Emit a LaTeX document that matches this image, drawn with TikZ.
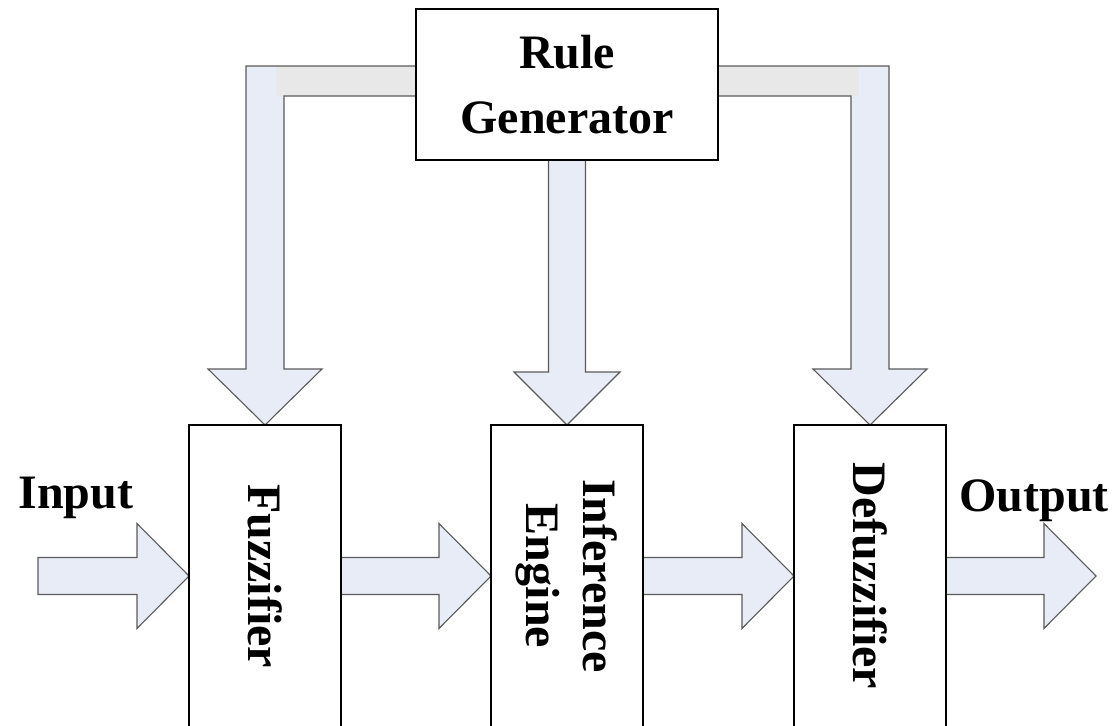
\documentclass[tikz,border=0pt]{standalone}
\usepackage{fontspec}
\setmainfont{Liberation Serif}
\usetikzlibrary{calc,backgrounds}
\definecolor{arrowfill}{HTML}{E8ECF6}
\definecolor{barfill}{HTML}{E8E8E8}
\definecolor{arrowline}{HTML}{5A5A5A}

\begin{document}
\begin{tikzpicture}[x=1pt,y=-1pt,
  box/.style={draw=black, line width=1.6pt, fill=white, inner sep=0pt, outer sep=0pt},
  bigtext/.style={font=\fontsize{48}{57}\selectfont\bfseries},
  vtext/.style={bigtext, rotate=-90, align=center},
  blockline/.style={draw=arrowline, line width=1.1pt, fill=arrowfill, line join=miter},
  % horizontal block arrow between two points
  harrow/.style={to path={
    ($(\tikztostart)+(0,-18.5)$) -- ($(\tikztotarget)+(-52,-18.5)$)
    -- ($(\tikztotarget)+(-52,-52.5)$) -- (\tikztotarget)
    -- ($(\tikztotarget)+(-52,52.5)$) -- ($(\tikztotarget)+(-52,18.5)$)
    -- ($(\tikztostart)+(0,18.5)$) -- cycle}},
  % vertical block arrow pointing down
  varrow/.style={to path={
    ($(\tikztostart)+(-18.5,0)$) -- ($(\tikztotarget)+(-18.5,-53)$)
    -- ($(\tikztotarget)+(-53,-53)$) -- (\tikztotarget)
    -- ($(\tikztotarget)+(53,-53)$) -- ($(\tikztotarget)+(18.5,-53)$)
    -- ($(\tikztostart)+(18.5,0)$) -- cycle}},
]
\useasboundingbox (0,0) rectangle (1118,725);
\clip (0,0) rectangle (1118,725);

% blocks
\node[box, minimum width=302, minimum height=151, bigtext, align=center,
      font=\fontsize{48}{65}\selectfont\bfseries] (rulegen) at (567,84.5) {Rule\\Generator};
\node[box, minimum width=152, minimum height=302,
      label={[vtext]center:Fuzzifier}] (fuzz) at (265,576) {};
\node[box, minimum width=152, minimum height=302,
      label={[vtext]center:Inference\\Engine}] (infer) at (567,576) {};
\node[box, minimum width=152, minimum height=302,
      label={[vtext]center:Defuzzifier}] (defuzz) at (870,576) {};

\node[bigtext, anchor=base] (inlabel) at (76,508) {Input};
\node[bigtext, anchor=base] (outlabel) at (1034,511) {Output};

\coordinate (in) at (38,576);
\coordinate (out) at (1096,576);
\coordinate (lc0) at (fuzz.north |- rulegen.west);
\coordinate (rc0) at (defuzz.north |- rulegen.east);
\coordinate (lc) at ($(lc0)+(0,-3.5)$);
\coordinate (rc) at ($(rc0)+(0,-3.5)$);

% elbow arrows from the rule generator
\def\leftelbow{($(lc)+(-19,-15)$) -- ($(fuzz.north)+(-19,-56)$)
  -- ($(fuzz.north)+(-57,-56)$) -- (fuzz.north)
  -- ($(fuzz.north)+(57,-56)$) -- ($(fuzz.north)+(19,-56)$)
  -- ($(lc)+(19,15)$) -- ($(rulegen.west)+(0,11.5)$)
  -- ($(rulegen.west)+(0,-18.5)$) -- cycle}
\def\rightelbow{($(rc)+(19,-15)$) -- ($(defuzz.north)+(19,-56)$)
  -- ($(defuzz.north)+(57,-56)$) -- (defuzz.north)
  -- ($(defuzz.north)+(-57,-56)$) -- ($(defuzz.north)+(-19,-56)$)
  -- ($(rc)+(-19,15)$) -- ($(rulegen.east)+(0,11.5)$)
  -- ($(rulegen.east)+(0,-18.5)$) -- cycle}

\begin{scope}[on background layer]
  \fill[arrowfill] \leftelbow;
  \fill[barfill] ($(lc)+(11,-15)$) rectangle ($(rulegen.west)+(0,11.5)$);
  \draw[arrowline, line width=1.1pt] \leftelbow;
  \fill[arrowfill] \rightelbow;
  \fill[barfill] ($(rc)+(-11,15)$) rectangle ($(rulegen.east)+(0,-18.5)$);
  \draw[arrowline, line width=1.1pt] \rightelbow;

  \path[blockline] (rulegen.south) to[varrow] (infer.north);
  \path[blockline] (in) to[harrow] (fuzz.west);
  \path[blockline] (fuzz.east) to[harrow] (infer.west);
  \path[blockline] (infer.east) to[harrow] (defuzz.west);
  \path[blockline] (defuzz.east) to[harrow] (out);
\end{scope}
\end{tikzpicture}
\end{document}
